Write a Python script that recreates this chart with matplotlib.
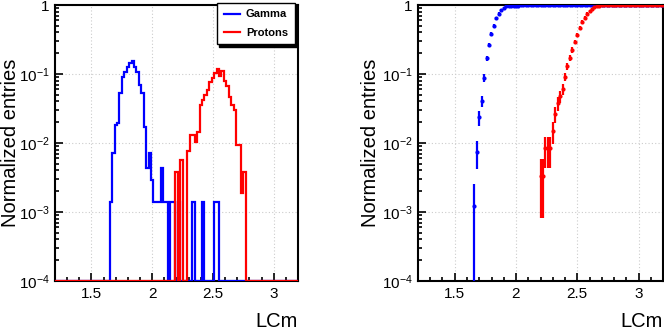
import matplotlib
matplotlib.use('Agg')
import matplotlib.pyplot as plt
import numpy as np
from matplotlib.ticker import MultipleLocator, LogLocator, FuncFormatter, NullFormatter

plt.rcParams['font.family'] = ['Liberation Sans', 'DejaVu Sans']
plt.rcParams['mathtext.fontset'] = 'custom'
plt.rcParams['mathtext.rm'] = 'Liberation Sans'
plt.rcParams['mathtext.it'] = 'Liberation Sans:italic'

# histogram binning (LCm), 0.02 wide bins
bin_lo = 1.19
bin_hi = 3.21
bin_width = 0.02

# normalized entries per bin
gamma_start = 1.65
gamma_vals = [0.0014, 0.0071, 0.0182, 0.0197, 0.0525, 0.091, 0.108, 0.128, 0.143, 0.152,
              0.128, 0.108, 0.069, 0.0525, 0.0172, 0.0043, 0.0071, 0.0029, 0.0014, 0.0014,
              0.0014, 0.0043, 0.0014, 0.0014, 0, 0.0014, 0.0014, 0, 0.0014, 0,
              0, 0, 0, 0, 0.0014, 0, 0, 0, 0.0014, 0,
              0, 0, 0, 0.0014, 0.0014]
gamma_entries = 700

proton_start = 2.19
proton_vals = [0.0038, 0, 0.0057, 0, 0, 0.0076, 0.013, 0.013, 0.0105, 0.0146,
               0.0356, 0.042, 0.050, 0.058, 0.0775, 0.087, 0.105, 0.118, 0.095, 0.112,
               0.080, 0.068, 0.047, 0.036, 0.030, 0.0093, 0.0093, 0.0019, 0.0038]
proton_entries = 526

labels = ['Gamma', 'Protons']
colors = ['#0000ff', '#ff0000']

x_ticks = [1.5, 2, 2.5, 3]
y_min, y_max = 1e-4, 1.0


def full_hist(start, vals, edges):
    h = np.zeros(len(edges) - 1)
    i0 = int(round((start - edges[0]) / bin_width))
    h[i0:i0 + len(vals)] = vals
    return h


def log_label(v, pos):
    if abs(v - 1) < 1e-9:
        return '1'
    return r'$10^{%d}$' % int(round(np.log10(v)))


def style_axis(ax, ylab_x):
    ax.set_yscale('log')
    ax.set_xlim(1.2, 3.2)
    ax.set_ylim(y_min, y_max)
    ax.xaxis.set_minor_locator(MultipleLocator(0.1))
    ax.set_xticks(x_ticks)
    ax.set_xticklabels(['1.5', '2', '2.5', '3'])
    ax.yaxis.set_major_locator(LogLocator(base=10, numticks=10))
    ax.yaxis.set_minor_locator(LogLocator(base=10, subs=np.arange(2, 10), numticks=10))
    ax.yaxis.set_major_formatter(FuncFormatter(log_label))
    ax.yaxis.set_minor_formatter(NullFormatter())
    ax.tick_params(which='both', direction='in', top=False, right=False, labelsize=11, width=1.2)
    ax.tick_params(which='major', length=6, pad=4)
    ax.tick_params(which='minor', length=3)
    ax.grid(True, which='major', color='#cccccc', linestyle=(0, (1, 2)), linewidth=0.8)
    for s in ax.spines.values():
        s.set_linewidth(1.5)
    ax.set_ylabel('Normalized entries', fontsize=14.5)
    ax.yaxis.set_label_coords(ylab_x, 0.5)
    ax.set_xlabel('LCm', fontsize=14.5, loc='right', labelpad=8)


edges = np.round(np.arange(bin_lo, bin_hi + 1e-9, bin_width), 3)
centers = 0.5 * (edges[:-1] + edges[1:])
hists = [full_hist(gamma_start, gamma_vals, edges), full_hist(proton_start, proton_vals, edges)]
entries = [gamma_entries, proton_entries]

fig = plt.figure(figsize=(6.64, 3.3), dpi=100)
ax1 = fig.add_axes([55 / 664, 1 - 281 / 330, 243 / 664, 276 / 330])
ax2 = fig.add_axes([418 / 664, 1 - 281 / 330, 245 / 664, 276 / 330])

# left: normalized histograms
for h, lab, col in zip(hists, labels, colors):
    ax1.stairs(np.clip(h, y_min, None), edges, color=col, linewidth=1.6, label=lab, zorder=3)
style_axis(ax1, -0.145)
leg = ax1.legend(loc='upper right', bbox_to_anchor=(1.0, 1.02),
                 prop={'weight': 'bold', 'size': 8}, frameon=True, fancybox=False,
                 edgecolor='black', framealpha=1, handlelength=1.5, handletextpad=0.5,
                 labelspacing=0.75, borderpad=0.6, borderaxespad=0.3,
                 shadow={'ox': 1.5, 'oy': -1.5, 'color': 'black', 'alpha': 1})
leg.get_frame().set_linewidth(1.0)

# right: cumulative distributions with errors
for h, n, col in zip(hists, entries, colors):
    cum = np.cumsum(h) / np.sum(h)
    m = cum > 0
    c = cum[m]
    err = np.sqrt(c / n)
    lower = c - np.maximum(c - err, 1e-6)
    ax2.errorbar(centers[m], c, yerr=[lower, err], fmt='o', ms=2, color=col,
                 ecolor=col, elinewidth=1.6, capsize=0, zorder=3)
style_axis(ax2, -0.155)

fig.savefig('out.png', dpi=100)
